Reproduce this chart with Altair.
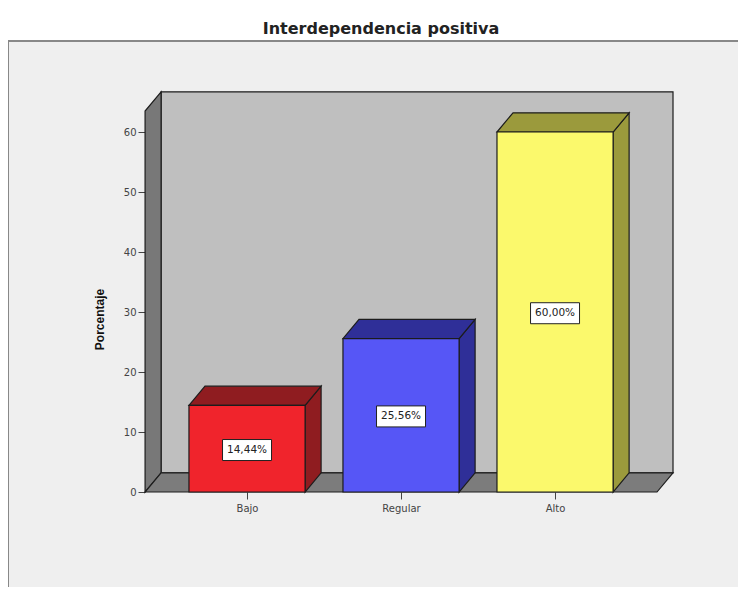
import altair as alt
import pandas as pd

title_text = "Interdependencia positiva"
y_title = "Porcentaje"
categories = ["Bajo", "Regular", "Alto"]
values = [14.44, 25.56, 60.0]
labels = ["14,44%", "25,56%", "60,00%"]
label_heights = [7.0, 12.6, 29.8]
front_colors = ["#f0242c", "#5656f6", "#fbf96c"]
dark_colors = ["#8f1c20", "#2f2f98", "#9b9a3c"]
y_ticks = [0, 10, 20, 30, 40, 50, 60]

positions = [1, 2, 3]
half_bar = 0.377
depth_x = 0.104
depth_y = 3.2
floor_lo, floor_hi = 0.338, 3.662
wall_top = 63.5
x_domain = [-0.552, 4.188]
y_domain = [-15.83, 75.17]

X = alt.Scale(domain=x_domain, nice=False, zero=False)
Y = alt.Scale(domain=y_domain, nice=False, zero=False)
EDGE = "#1c1c1c"
axis_font = "DejaVu Sans"

X_AXIS = alt.Axis(
    values=positions, offset=-95, domain=False, grid=False, tickSize=7, tickColor="#444",
    labelExpr="datum.value == 1 ? 'Bajo' : datum.value == 2 ? 'Regular' : 'Alto'",
    labelFont=axis_font, labelFontSize=10, labelColor="#444", labelPadding=4, title=None,
)
Y_AXIS = alt.Axis(
    values=y_ticks, offset=-137, domain=False, grid=False, tickSize=7, tickColor="#444",
    labelFont=axis_font, labelFontSize=10, labelColor="#444", labelPadding=2,
    title=y_title, titleFont="Liberation Sans", titleFontSize=12, titleFontWeight="bold", titleColor="#111",
    titlePadding=17, titleY=278,
)


def x_enc():
    return alt.X("x:Q", scale=X, axis=X_AXIS)


def y_enc():
    return alt.Y("y:Q", scale=Y, axis=Y_AXIS)


def rect(rows, color, stroke=EDGE):
    return alt.Chart(pd.DataFrame(rows)).mark_rect(fill=color, stroke=stroke, strokeWidth=1.2).encode(
        x=x_enc(), x2="x2:Q", y=y_enc(), y2="y2:Q")


def side(rows, color):
    return alt.Chart(pd.DataFrame(rows)).mark_area(fill=color, stroke=EDGE, strokeWidth=1.2, orient="vertical").encode(
        x=x_enc(), y=y_enc(), y2="y2:Q")


def top(rows, color):
    return alt.Chart(pd.DataFrame(rows)).mark_area(fill=color, stroke=EDGE, strokeWidth=1.2, orient="horizontal").encode(
        y=y_enc(), x=x_enc(), x2="x2:Q")


layers = [
    rect([{"x": floor_lo + depth_x, "x2": floor_hi + depth_x, "y": depth_y, "y2": wall_top + depth_y}], "#bfbfbf"),
    side([{"x": floor_lo, "y": 0, "y2": wall_top},
          {"x": floor_lo + depth_x, "y": depth_y, "y2": wall_top + depth_y}], "#787878"),
    top([{"y": 0, "x": floor_lo, "x2": floor_hi},
         {"y": depth_y, "x": floor_lo + depth_x, "x2": floor_hi + depth_x}], "#7c7c7c"),
]

for p, v, fc, dc in zip(positions, values, front_colors, dark_colors):
    lo, hi = p - half_bar, p + half_bar
    layers.append(side([{"x": hi, "y": 0, "y2": v},
                        {"x": hi + depth_x, "y": depth_y, "y2": v + depth_y}], dc))
    layers.append(top([{"y": v, "x": lo, "x2": hi},
                       {"y": v + depth_y, "x": lo + depth_x, "x2": hi + depth_x}], dc))
    layers.append(rect([{"x": lo, "x2": hi, "y": 0, "y2": v}], fc))

label_df = pd.DataFrame({"x": positions, "y": label_heights, "t": labels})
layers.append(alt.Chart(label_df).mark_rect(width=49, height=21, fill="white", stroke="#222", strokeWidth=1).encode(
    x=x_enc(), y=y_enc()))
layers.append(alt.Chart(label_df).mark_text(font=axis_font, fontSize=10.5, color="#222").encode(
    x=x_enc(), y=y_enc(), text="t:N"))

# frame: only the top and left edges are seen in the reference
layers.append(alt.Chart(pd.DataFrame({"x": [x_domain[0]], "x2": [x_domain[1]], "y": [y_domain[1]]})).mark_rule(
    color="#888888", strokeWidth=2).encode(x=x_enc(), x2="x2:Q", y=y_enc()))
layers.append(alt.Chart(pd.DataFrame({"x": [x_domain[0]], "y": [y_domain[0]], "y2": [y_domain[1]]})).mark_rule(
    color="#888888", strokeWidth=2).encode(x=x_enc(), y=y_enc(), y2="y2:Q"))

chart = alt.layer(*layers).properties(
    width=730, height=546,
    autosize=alt.AutoSizeParams(type="none"),
    padding={"top": 33, "left": 0, "right": 0, "bottom": 0},
    background="white",
    title=alt.TitleParams(title_text, font="DejaVu Sans", fontSize=16, fontWeight="bold",
                          color="#222", offset=3, anchor="middle", dx=8),
).configure_view(fill="#efefef", stroke=None)

chart.save("out.html", embed_options={"renderer": "svg", "actions": False})
